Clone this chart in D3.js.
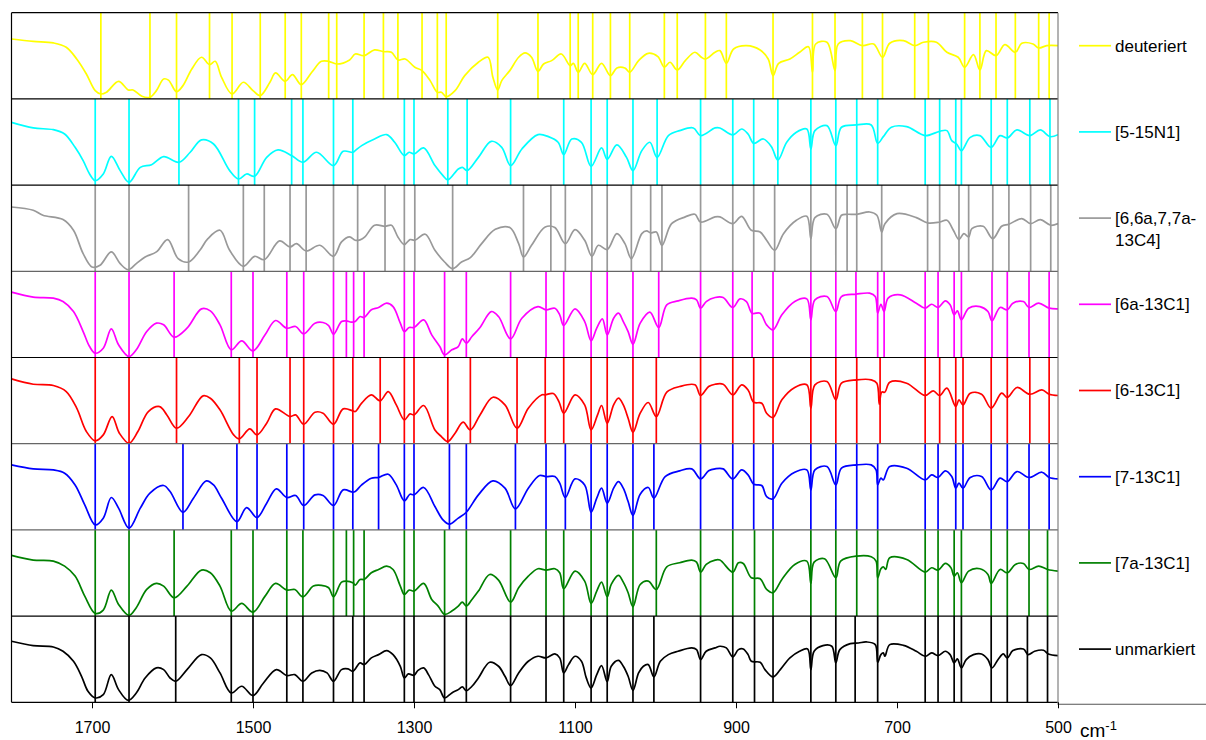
<!DOCTYPE html>
<html>
<head>
<meta charset="utf-8">
<script src="https://cdn.jsdelivr.net/npm/d3@7"></script>
<style>
  html, body { margin: 0; padding: 0; background: #fff; }
  svg text { font-family: "Liberation Sans", Arial, Helvetica, sans-serif; fill: #000; }
</style>
</head>
<body>
<svg id="chart" width="1206" height="740"></svg>
<script>
// IR spectra (1800–500 cm-1) of the labelled isotopologues, stacked top to bottom.
// Each spectrum: [wavenumber, relative transmission 0..100 within its strip].
// Each *Peaks array: band positions marked with vertical lines.

const tickValues = [1700, 1500, 1300, 1100, 900, 700, 500];

const seriesLabels = [
  ["deuteriert"],
  ["[5-15N1]"],
  ["[6,6a,7,7a-", "13C4]"],
  ["[6a-13C1]"],
  ["[6-13C1]"],
  ["[7-13C1]"],
  ["[7a-13C1]"],
  ["unmarkiert"]
];
const seriesColors = ["#ffff00", "#00ffff", "#999999", "#ff00ff", "#ff0000", "#0000ff", "#008000", "#000000"];

const deuteriert = [[1800,69.5],[1773,66.8],[1748,64.9],[1732,59.9],[1719,46.3],[1707,28.9],[1696,9.6],[1689,5.7],[1682,7.7],[1667,20.4],[1655,10.4],[1649,10.4],[1638,3],[1628,1.9],[1620,9.6],[1611,23.1],[1605,21.8],[1595,8.4],[1587,15.4],[1576,34.7],[1564,48.3],[1554,39.8],[1547,43.6],[1539,25.1],[1526,5.7],[1512,19.3],[1500,9.6],[1491,3.8],[1479,19.3],[1472,30.1],[1460,20.4],[1451,28.2],[1440,16.6],[1427,30.9],[1415,43.6],[1406,43.6],[1396,40.5],[1380,45.2],[1373,52.1],[1362,50.2],[1349,56.8],[1338,54.8],[1328,54.1],[1320,45.2],[1311,46.3],[1299,36.7],[1290,32.8],[1280,21.2],[1271,7.7],[1266,7.7],[1260,2.6],[1249,9.6],[1237,27],[1220,42.5],[1208,48.3],[1202,25.1],[1196,10.4],[1191,21.2],[1181,32.8],[1170,48.3],[1162,53.3],[1154,48.3],[1146,32],[1139,40.5],[1129,44.4],[1117,52.1],[1106,38.6],[1102,41.3],[1096,30.9],[1088,41.3],[1078,28.2],[1067,41.3],[1056,27],[1048,35.9],[1038,35.9],[1032,30.9],[1021,44.4],[1009,52.9],[997,49],[989,36.7],[982,42.5],[973,33.6],[963,44.4],[951,54.1],[943,48.3],[938,46.3],[926,54.1],[920,56],[912,41.3],[903,57.9],[887,61.8],[870,56.8],[860,46.3],[854,27],[847,41.3],[833,46.3],[821,54.1],[810,60.6],[805,30.9],[801,63.7],[787,65.7],[777,32.8],[773,63.7],[758,67.6],[743,61.8],[729,63.7],[718,48.3],[709,64.5],[692,67.6],[678,61.8],[667,65.7],[651,65.7],[638,54.1],[624,48.3],[616,36.7],[605,51.4],[597,33.6],[589,56],[577,50.2],[566,62.9],[553,54.1],[545,64.5],[531,63.7],[524,59.1],[514,61.8],[500,61.8]];
const deuteriertPeaks = [1689,1628,1595,1554,1526,1491,1460,1440,1406,1396,1362,1338,1320,1290,1271,1260,1196,1146,1106,1096,1078,1056,1032,989,973,938,912,854,805,777,743,718,678,661,616,597,577,553,524,511];

const n15 = [[1800,72.8],[1773,66.3],[1748,64.3],[1734,59.3],[1721,43.8],[1711,28.4],[1703,12.9],[1696,5.2],[1686,12.9],[1676,33.4],[1665,16.8],[1654,3.3],[1640,20.6],[1626,23.7],[1611,33],[1592,26.5],[1578,38.1],[1564,52.4],[1549,47.7],[1529,16.8],[1518,7.1],[1508,12.9],[1498,10.2],[1483,32.2],[1469,40.8],[1452,34.2],[1438,26.5],[1421,38.1],[1400,22.6],[1388,39.2],[1376,38.1],[1373,40],[1365,45.8],[1349,53.5],[1334,58.6],[1324,49.7],[1312,34.2],[1306,38.1],[1300,36.1],[1288,43.1],[1274,22.6],[1264,11],[1258,6],[1245,18.7],[1240,20.6],[1234,16.8],[1220,32.2],[1204,50.8],[1191,43.8],[1180,22.6],[1166,41.9],[1146,58.6],[1133,56.2],[1121,49.7],[1114,35.3],[1104,53.5],[1092,49.7],[1080,21.8],[1067,43.1],[1060,29.9],[1048,46.6],[1036,32.2],[1028,16.8],[1017,40],[1007,49.7],[998,32.2],[984,57.4],[970,63.2],[953,66.3],[944,57.4],[926,66.3],[920,66.3],[904,58.2],[893,65.1],[885,59.3],[878,48.5],[866,53.5],[856,44.6],[848,29.1],[837,49.7],[825,61.3],[812,65.1],[807,41.9],[802,63.2],[787,69],[776,45.8],[769,67.1],[750,69.8],[732,69.8],[724,48.5],[717,56.2],[707,67.1],[688,67.8],[665,57.4],[647,62.4],[638,63.2],[632,51.6],[626,47.7],[620,40],[609,55.4],[597,57.4],[583,43.8],[572,57.4],[563,54.7],[551,64],[535,57.4],[522,64],[510,56.2],[500,58.5]];
const n15Peaks = [1696,1654,1592,1518,1498,1452,1438,1400,1376,1312,1300,1258,1234,1180,1114,1080,1060,1028,998,944,904,878,848,807,776,750,724,665,647,627,620,583,563,535,510];

const c13x4 = [[1800,74.6],[1773,70.8],[1761,65],[1736,60],[1723,47.6],[1711,20.5],[1700,5],[1690,7],[1676,22.5],[1665,8.9],[1655,1.9],[1645,8.9],[1634,16.6],[1620,22.5],[1606,36.8],[1593,14.7],[1580,10.8],[1566,24.4],[1556,37.9],[1541,47.6],[1529,24.4],[1512,5.8],[1498,17.4],[1486,13.5],[1467,35.2],[1454,28.3],[1446,32.1],[1434,23.6],[1417,30.2],[1400,17.4],[1390,34.1],[1380,39.9],[1373,36],[1367,36.5],[1361,39.9],[1349,53.4],[1336,52.2],[1328,53.4],[1320,39.9],[1312,31],[1305,36.8],[1299,36],[1286,43],[1274,24.4],[1262,10.8],[1252,3.1],[1241,10.8],[1230,15.9],[1216,32.1],[1199,48.7],[1181,50.7],[1170,32.1],[1164,16.6],[1154,30.2],[1137,51.4],[1125,50.7],[1112,32.1],[1100,48.3],[1088,36],[1079,17.4],[1071,30.2],[1060,25.2],[1048,43.7],[1038,32.1],[1030,14.7],[1017,43.7],[1011,46.8],[1006,44.5],[999,45.6],[992,30.2],[980,55.3],[963,63.1],[951,66.1],[944,57.2],[926,63.1],[920,63.1],[904,55.3],[893,63.8],[881,47.6],[870,45.6],[862,36],[852,24.4],[841,43.7],[825,59.2],[812,63.8],[807,37.9],[802,62.3],[787,66.1],[776,49.5],[769,65],[762,66.1],[750,66.1],[734,68.8],[725,65],[719,45.6],[715,55.3],[700,66.9],[676,62.3],[662,56.1],[647,57.2],[638,59.2],[630,47.6],[623,36.8],[617,43.7],[611,39.9],[607,49.5],[593,52.2],[581,37.9],[570,52.2],[561,54.6],[545,61.1],[534,55.3],[522,60],[509,53.4],[500,55.3]];
const c13x4Peaks = [1696,1654,1580,1512,1486,1454,1434,1400,1370,1336,1312,1299,1252,1164,1130,1112,1079,1060,1030,1006,992,944,904,878,852,807,776,762,750,719,662,647,623,611,581,561,534,509];

const c13_6a = [[1800,75.8],[1773,70],[1748,68.8],[1736,64.9],[1723,53.3],[1711,30.1],[1703,12.7],[1696,5],[1686,10.8],[1676,33.2],[1667,14.7],[1654,1.1],[1645,8.9],[1632,30.1],[1620,39.8],[1611,37.9],[1598,23.6],[1582,34],[1564,56.4],[1553,54.1],[1541,37.9],[1527,8.9],[1514,19.3],[1500,7.7],[1485,26.3],[1472,42.9],[1458,34],[1447,35.9],[1437,27.4],[1423,39.8],[1413,40.6],[1406,37.1],[1400,27],[1390,41.7],[1384,42.5],[1378,41],[1373,41.7],[1367,47.5],[1362,46.4],[1353,55.3],[1344,58],[1334,63],[1326,59.1],[1317,39.8],[1312,30.1],[1306,34.8],[1300,34.8],[1288,43.7],[1278,26.3],[1268,12.7],[1262,3.1],[1253,8.9],[1245,12.7],[1240,21.6],[1235,16.6],[1228,24.3],[1218,34.8],[1204,53.3],[1195,47.5],[1180,21.6],[1166,45.6],[1146,59.1],[1136,55.3],[1125,57.2],[1119,49.5],[1114,37.1],[1100,56.4],[1088,41.7],[1080,19.3],[1073,34],[1066,44.8],[1060,26.3],[1052,45.6],[1046,51.4],[1040,41.7],[1034,30.1],[1028,15.4],[1019,39.8],[1007,52.6],[996,34.8],[986,61.1],[972,65.7],[955,68.8],[949,66.9],[944,57.2],[937,64.9],[926,69.6],[916,69.6],[904,58],[895,68],[887,64.9],[880,51.4],[870,51.4],[862,37.9],[854,32.1],[843,49.5],[827,64.9],[812,68],[807,43.7],[802,66.9],[787,70.7],[776,53.3],[769,70.7],[751,73.4],[734,74.6],[727,70.7],[724,51.4],[720,61.8],[716,53.3],[711,68.8],[696,72.7],[676,63],[665,57.2],[657,61.8],[649,58],[640,65.7],[634,61.1],[629,49.5],[625,54.1],[620,43.7],[611,57.2],[597,59.1],[587,53.3],[582,42.5],[572,58],[563,55.3],[556,63],[543,64.9],[536,58],[524,63],[511,57.2],[500,56.4]];
const c13_6aPeaks = [1696,1654,1598,1527,1500,1458,1437,1400,1384,1375,1362,1312,1300,1262,1235,1180,1136,1114,1080,1060,1028,996,944,904,880,854,807,776,751,724,716,665,649,629,620,582,563,536,511];

const c13_6 = [[1800,75.2],[1773,69],[1748,67.5],[1732,60.5],[1719,41.2],[1707,14.1],[1696,3.3],[1686,10.2],[1675,31.5],[1666,12.2],[1654,0.6],[1643,14.1],[1630,37.3],[1616,43.1],[1607,33.4],[1595,18],[1580,31.5],[1562,55.5],[1553,52.8],[1541,39.3],[1524,10.2],[1517,5.6],[1504,17.2],[1495,10.2],[1483,23.8],[1472,40.4],[1454,31.5],[1447,33.4],[1437,22.6],[1423,36.5],[1413,35.4],[1400,22.6],[1388,40.4],[1376,38.1],[1373,37.3],[1365,47],[1353,56.7],[1342,49.7],[1332,60.5],[1322,45],[1312,27.7],[1305,34.6],[1300,33.4],[1288,44.3],[1274,16],[1266,8.3],[1258,2.5],[1249,12.2],[1239,25],[1230,16],[1218,33.4],[1202,53.9],[1187,45],[1172,17.9],[1158,41.2],[1141,56.7],[1137,56.7],[1127,58.2],[1120,48.9],[1114,35.4],[1100,56.7],[1088,45],[1080,16],[1072,33.4],[1067,44.3],[1060,23.8],[1052,45],[1046,52.8],[1040,45],[1034,29.6],[1028,13.3],[1019,35.4],[1009,47.8],[999,31.5],[986,59.8],[970,66.3],[951,68.3],[944,55.9],[934,66.3],[926,69],[916,69],[904,56.7],[893,68.3],[885,62.4],[878,48.1],[868,47],[862,35.4],[854,30.4],[843,50.9],[827,65.2],[812,68.3],[807,41.2],[802,68.3],[787,72.1],[776,50.9],[769,70.2],[750,74.1],[732,74.1],[725,70.2],[722,45.8],[719,59.8],[715,59.8],[709,71.3],[688,70.2],[665,55.9],[655,61.3],[647,55.9],[638,64.4],[627,43.1],[623,50.9],[618,45],[609,58.6],[595,57.4],[583,41.2],[570,58.6],[563,53.6],[551,65.2],[535,57.4],[520,62.4],[511,57.4],[500,55.9]];
const c13_6Peaks = [1696,1654,1595,1517,1495,1454,1437,1400,1376,1342,1312,1300,1258,1230,1172,1137,1114,1080,1060,1028,999,944,904,878,854,807,776,750,721,665,647,627,618,583,563,535,511];

const c13_7 = [[1800,75.4],[1773,70.8],[1748,69.6],[1734,65.8],[1721,52.2],[1709,29],[1696,5.8],[1686,13.6],[1676,37.6],[1667,25.2],[1654,2],[1640,25.2],[1628,42.6],[1611,51.5],[1603,44.5],[1587,20.5],[1574,36.8],[1558,56.9],[1549,52.2],[1539,36.8],[1520,9.7],[1508,25.9],[1495,14.3],[1483,31],[1471,47.6],[1458,37.6],[1447,39.9],[1437,28.3],[1423,40.6],[1413,39.9],[1400,28.3],[1388,46.4],[1376,43.7],[1373,44.5],[1365,52.2],[1353,60],[1344,60.8],[1332,64.6],[1322,52.2],[1312,33.7],[1305,41.4],[1300,40.6],[1288,49.2],[1274,27.1],[1264,11.6],[1256,6.6],[1245,13.6],[1235,20.5],[1220,40.6],[1202,56.9],[1187,48.4],[1174,24.4],[1158,48.4],[1144,63.1],[1136,61.9],[1125,61.9],[1119,54.2],[1112,37.6],[1100,59.2],[1088,52.2],[1080,20.5],[1073,36.8],[1067,48.4],[1060,31],[1052,48.4],[1046,56.1],[1040,48.4],[1034,32.9],[1028,16.7],[1019,41.4],[1009,49.2],[1002,36.8],[988,61.9],[970,68.5],[955,70.8],[944,59.2],[934,68.5],[926,70.8],[916,70.8],[904,59.2],[893,69.6],[885,63.8],[878,53],[868,51.5],[862,38.7],[854,36],[843,54.2],[827,66.9],[812,69.6],[807,46.4],[802,69.6],[787,73.5],[776,52.2],[769,71.6],[750,75.4],[732,75.4],[726,69.6],[724,52.2],[720,60],[717,58],[709,73.5],[688,71.6],[665,58],[657,63.8],[649,60.8],[640,68.5],[632,61.9],[627,48.4],[623,54.2],[618,48.4],[609,60.8],[595,61.9],[583,46.4],[572,60],[563,56.1],[551,67.7],[536,60.8],[520,66.9],[511,60.8],[500,59.2]];
const c13_7Peaks = [1696,1654,1587,1520,1495,1458,1437,1400,1376,1344,1312,1300,1256,1235,1174,1136,1112,1080,1060,1028,1002,944,904,878,854,807,776,750,724,665,649,627,618,583,563,536,511];

const c13_7a = [[1800,70.4],[1773,65],[1748,63.8],[1734,58],[1721,46.4],[1709,23.2],[1696,3.1],[1686,7],[1676,30.2],[1667,13.5],[1654,0.8],[1645,9.7],[1632,30.9],[1620,37.9],[1611,34.8],[1598,21.3],[1582,34.8],[1564,53.4],[1553,50.3],[1541,34.8],[1527,5.8],[1514,14.7],[1500,4.6],[1485,23.2],[1472,37.9],[1458,30.2],[1448,30.9],[1438,22.4],[1425,34.8],[1415,35.6],[1406,32.9],[1400,22.4],[1390,39.4],[1384,40.6],[1376,38.7],[1373,36],[1367,42.5],[1362,42.5],[1353,50.3],[1344,54.1],[1334,58],[1326,54.1],[1317,34.8],[1312,25.1],[1306,30.2],[1300,29],[1288,37.9],[1278,19.3],[1270,11.6],[1262,2],[1253,5.8],[1245,11.6],[1240,16.2],[1235,11.6],[1228,19.3],[1220,29],[1206,48.3],[1195,41.8],[1180,16.2],[1170,32.9],[1158,46.4],[1146,54.9],[1136,53.4],[1125,54.9],[1119,50.3],[1114,31.7],[1100,52.2],[1088,40.6],[1080,14.7],[1073,29],[1067,39.4],[1060,22.4],[1055,36.7],[1046,47.2],[1040,39.4],[1034,27.1],[1028,10.8],[1019,36.7],[1009,40.6],[999,30.9],[986,57.2],[970,61.9],[955,65],[949,62.6],[944,51],[937,59.9],[926,65],[920,65],[904,51],[897,61.9],[891,61.1],[881,44.5],[870,43.3],[862,30.9],[854,27.1],[843,42.5],[827,59.9],[812,63.8],[807,37.9],[803,62.6],[790,66.5],[776,44.5],[770,63.8],[750,69.6],[732,68.8],[726,63.8],[724,44.5],[720,54.9],[717,57.2],[714,54.1],[709,67.7],[688,65.7],[665,51],[657,56.1],[649,53.4],[640,61.1],[633,56.1],[629,46.4],[625,50.3],[620,38.7],[611,52.2],[597,54.9],[587,48.3],[583,37.9],[572,54.1],[563,50.3],[553,59.9],[543,61.1],[536,54.1],[524,58],[513,54.1],[500,52.2]];
const c13_7aPeaks = [1696,1654,1598,1527,1500,1458,1438,1400,1384,1375,1362,1312,1300,1262,1235,1180,1136,1114,1080,1060,1028,999,944,904,877,854,807,776,750,724,665,649,629,620,583,563,536,513];

const unmarkiert = [[1800,70.8],[1773,65.8],[1748,64.2],[1736,59.2],[1723,47.6],[1713,30.2],[1705,12.8],[1696,5.1],[1686,8.9],[1676,32.1],[1667,14.7],[1655,2.3],[1645,10.8],[1634,28.2],[1620,39.9],[1611,37.9],[1603,28.2],[1596,24.4],[1582,37.9],[1564,55.3],[1553,51.5],[1541,34.1],[1527,10.8],[1514,18.6],[1500,7.8],[1487,22.4],[1471,37.9],[1458,31],[1448,32.1],[1438,24.4],[1427,34.1],[1417,37.1],[1408,34.1],[1400,24.4],[1390,37.9],[1382,38.7],[1376,36],[1367,45.7],[1362,43.7],[1353,51.5],[1344,55.3],[1334,60],[1326,55.3],[1317,41.8],[1312,28.3],[1307,32.9],[1300,31.3],[1295,37.1],[1288,39.9],[1282,32.1],[1274,18.6],[1268,14.7],[1262,5.1],[1253,10.9],[1245,14.7],[1240,17.8],[1235,13.6],[1228,18.6],[1220,28.3],[1206,46.4],[1195,41.8],[1187,30.2],[1180,19.4],[1170,34.1],[1158,47.6],[1146,53.4],[1136,51.5],[1125,56.1],[1119,51.5],[1114,34.1],[1108,43.7],[1100,53.4],[1092,47.6],[1086,28.3],[1080,16.6],[1073,32.1],[1067,42.6],[1060,24],[1055,41.8],[1046,48.7],[1040,41.8],[1034,30.2],[1028,13.9],[1021,34.1],[1015,41.8],[1009,43.7],[1002,29.4],[994,47.6],[984,55.3],[972,59.2],[955,63.1],[949,61.1],[944,49.5],[937,59.2],[926,63.1],[920,65],[912,63.1],[904,52.6],[897,61.1],[891,61.9],[885,55.3],[881,47.6],[870,46.4],[864,37.9],[854,29.4],[845,37.9],[833,51.5],[821,59.2],[811,61.9],[807,37.9],[803,59.2],[792,65.8],[781,65],[776,45.7],[771,61.1],[758,68.1],[748,68.8],[738,70],[727,66.9],[724,46.4],[720,55.3],[717,57.3],[715,53.4],[709,66.9],[692,66.1],[676,59.2],[665,53.4],[657,57.3],[649,54.2],[640,59.2],[634,55.3],[629,45.7],[625,50.3],[620,39.9],[614,49.5],[605,55.3],[595,56.1],[587,49.5],[582,39.9],[574,50.3],[568,56.1],[563,51.5],[556,60],[543,61.9],[537,55.3],[529,59.2],[518,60.4],[512,56.1],[500,54.2]];
const unmarkiertPeaks = [1696,1654,1596,1527,1500,1458,1438,1400,1376,1362,1312,1300,1262,1235,1180,1136,1114,1080,1060,1028,1002,944,904,877,854,807,776,752,724,665,649,629,620,583,563,538,513];

const spectra = [deuteriert, n15, c13x4, c13_6a, c13_6, c13_7, c13_7a, unmarkiert];
const peakSets = [deuteriertPeaks, n15Peaks, c13x4Peaks, c13_6aPeaks, c13_6Peaks, c13_7Peaks, c13_7aPeaks, unmarkiertPeaks];
// strip separator tones (top edge of each strip, then the bottom edge)
const edgeTones = ["#000", "#000", "#000", "#666", "#000", "#666", "#666", "#000", "#000"];

// ---- layout ----
const plotLeft = 11.5, plotRight = 1058, plotTop = 12.7, stripH = 86.2;
const plotBottom = plotTop + stripH * spectra.length;

const svg = d3.select("#chart");
const x = d3.scaleLinear().domain([1800, 500]).range([plotLeft, plotRight]);

svg.append("defs").append("clipPath").attr("id", "plotClip")
  .append("rect").attr("x", plotLeft).attr("y", plotTop)
  .attr("width", plotRight - plotLeft).attr("height", plotBottom - plotTop);

const plot = svg.append("g").attr("clip-path", "url(#plotClip)");

spectra.forEach((pts, i) => {
  const top = plotTop + i * stripH;
  const y = d3.scaleLinear().domain([0, 100]).range([top + stripH, top]);
  const color = seriesColors[i];
  const g = plot.append("g");

  g.selectAll("line.band").data(peakSets[i]).join("line")
    .attr("class", "band")
    .attr("x1", d => x(d)).attr("x2", d => x(d))
    .attr("y1", top).attr("y2", top + stripH)
    .attr("stroke", color).attr("stroke-width", 1.7);

  const line = d3.line()
    .x(d => x(d[0])).y(d => y(d[1]))
    .curve(d3.curveCatmullRom.alpha(0.5));

  g.append("path").datum(pts)
    .attr("d", line)
    .attr("fill", "none")
    .attr("stroke", color)
    .attr("stroke-width", 1.7)
    .attr("stroke-linejoin", "round");

  // legend entry
  const ly = top + 33;
  svg.append("line")
    .attr("x1", 1079).attr("x2", 1111).attr("y1", ly).attr("y2", ly)
    .attr("stroke", color).attr("stroke-width", 1.7);
  const t = svg.append("text").attr("x", 1115).attr("y", ly).attr("font-size", 17);
  seriesLabels[i].forEach((s, k) => {
    t.append("tspan").attr("x", 1115).attr("dy", k === 0 ? "0.35em" : 22).text(s);
  });
});

// strip separators
edgeTones.forEach((c, i) => {
  const yy = plotTop + i * stripH;
  svg.append("line")
    .attr("x1", plotLeft).attr("x2", plotRight).attr("y1", yy).attr("y2", yy)
    .attr("stroke", c).attr("stroke-width", 1.2);
});

// left and right frame
svg.append("line").attr("x1", plotLeft).attr("x2", plotLeft)
  .attr("y1", plotTop).attr("y2", plotBottom).attr("stroke", "#000").attr("stroke-width", 1.2);
svg.append("line").attr("x1", plotRight).attr("x2", plotRight)
  .attr("y1", plotTop).attr("y2", plotBottom + 2.5).attr("stroke", "#808080").attr("stroke-width", 1.2);
// axis line continuing to the right edge
svg.append("line").attr("x1", plotRight).attr("x2", 1206)
  .attr("y1", plotBottom + 2).attr("y2", plotBottom + 2).attr("stroke", "#555").attr("stroke-width", 1.1);

// x axis
const axis = d3.axisBottom(x).tickValues(tickValues).tickSize(6).tickSizeOuter(0).tickFormat(d3.format("d"));
const ax = svg.append("g").attr("transform", `translate(0,${plotBottom})`).call(axis);
ax.select(".domain").remove();
ax.selectAll(".tick line").attr("stroke", "#000").attr("stroke-width", 1);
ax.selectAll(".tick text")
  .attr("y", 19)
  .attr("font-size", 16)
  .attr("font-family", "Liberation Sans, Arial, sans-serif")
  .attr("fill", "#000");

// unit label
const unit = svg.append("text").attr("x", 1080).attr("y", 737).attr("font-size", 19);
unit.append("tspan").text("cm");
unit.append("tspan").attr("font-size", 13).attr("dy", -7).text("-1");
</script>
</body>
</html>
